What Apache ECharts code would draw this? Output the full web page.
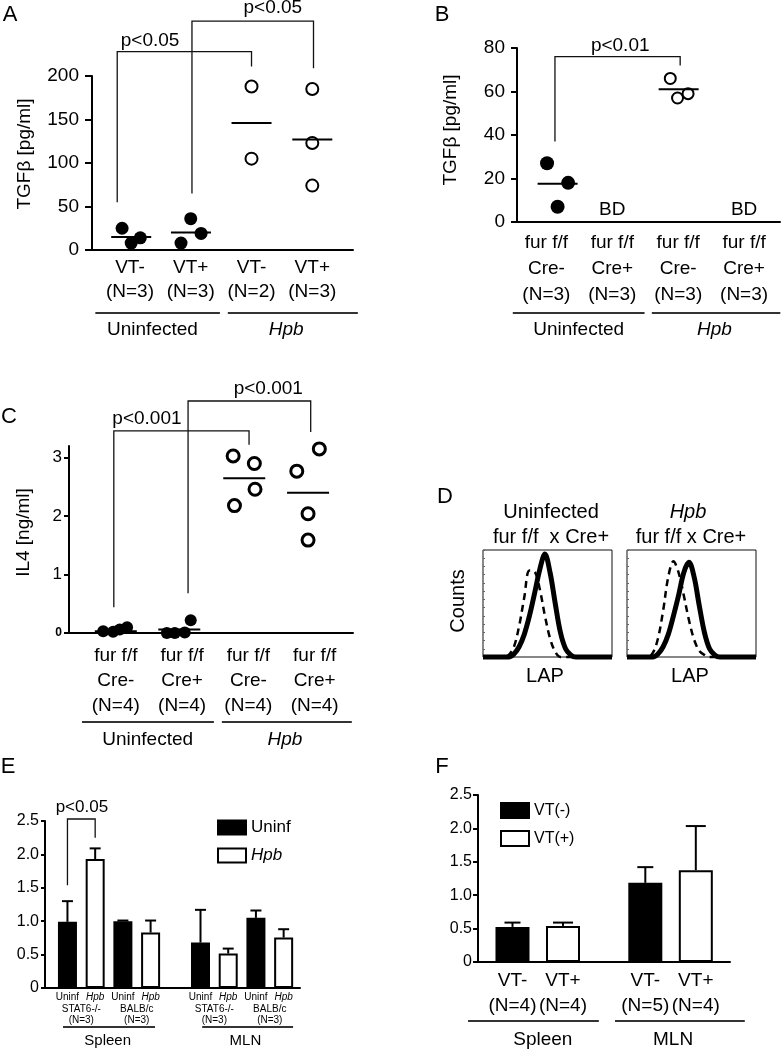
<!DOCTYPE html>
<html><head><meta charset="utf-8">
<script src="https://cdn.jsdelivr.net/npm/echarts@6/dist/echarts.min.js"></script>
<style>html,body{margin:0;padding:0;background:#fff}#c{width:783px;height:1050px}</style>
</head><body><div id="c"></div>
<script>
// ================= DATA =================
// Panel A : TGFβ [pg/ml]
const catsA = ['VT-', 'VT+', 'VT-', 'VT+'];
const nA = ['(N=3)', '(N=3)', '(N=2)', '(N=3)'];
const groupsA = ['Uninfected', 'Hpb'];
const ptsA = [                      // [category + jitter, value]
  [[0.87, 25], [1.02, 8], [1.17, 14]],
  [[1.84, 8], [2.00, 36], [2.17, 19]],
  [[3.00, 188], [3.00, 105]],
  [[4.00, 185], [4.00, 123], [4.00, 74]]
];
const meansA = [15, 20, 146, 127];
const ticksA = [0, 50, 100, 150, 200];

// Panel B : TGFβ [pg/ml]
const catsB = ['fur f/f\nCre-\n(N=3)', 'fur f/f\nCre+\n(N=3)', 'fur f/f\nCre-\n(N=3)', 'fur f/f\nCre+\n(N=3)'];
const ptsB = [
  [[1.01, 27], [1.33, 18], [1.17, 7]],
  [],
  [[2.88, 66], [2.99, 57], [3.15, 59]],
  []
];
const meansB = [17.6, null, 61, null];
const bdB = ['', 'BD', '', 'BD'];
const ticksB = [0, 20, 40, 60, 80];

// Panel C : IL4 [ng/ml]
const catsC = ['fur f/f\nCre-\n(N=4)', 'fur f/f\nCre+\n(N=4)', 'fur f/f\nCre-\n(N=4)', 'fur f/f\nCre+\n(N=4)'];
const ptsC = [
  [[0.81, 0.03], [0.96, 0.02], [1.06, 0.06], [1.17, 0.10]],
  [[1.77, 0.0], [1.89, 0.0], [2.04, 0.01], [2.13, 0.22]],
  [[2.77, 3.03], [3.09, 2.90], [3.10, 2.46], [2.79, 2.18]],
  [[4.07, 3.15], [3.73, 2.77], [3.90, 2.04], [3.90, 1.59]]
];
const meansC = [0.03, 0.06, 2.65, 2.40];
const ticksC = [0, 1, 2, 3];

// Panel D : LAP histograms (counts, % of max)
const lapX = [0, 4, 8, 12, 16, 20, 24, 28, 32, 36, 40, 44, 48, 52, 56, 60, 64, 68, 72, 76, 80, 84, 88, 92, 96, 100];
const uninfSolid = [0, 0, 0, 0, 0, 0, 3, 10, 22, 40, 62, 85, 100, 82, 52, 24, 8, 2, 0, 0, 0, 0, 0, 0, 0, 0];
const uninfDash  = [0, 0, 0, 0, 0, 2, 10, 30, 58, 84, 83, 66, 40, 18, 5, 0, 0, 0, 0, 0, 0, 0, 0, 0, 0, 0];
const hpbSolid   = [0, 0, 0, 0, 0, 0, 3, 10, 22, 40, 60, 82, 92, 78, 50, 24, 8, 2, 0, 0, 0, 0, 0, 0, 0, 0];
const hpbDash    = [0, 0, 0, 0, 0, 4, 18, 45, 78, 93, 82, 60, 36, 17, 6, 2, 0, 0, 0, 0, 0, 0, 0, 0, 0, 0];

// Panel E : bars (organ, strain) x (Uninf, Hpb)
const organsE = ['Spleen', 'MLN'];
const strainsE = ['STAT6-/-', 'BALB/c', 'STAT6-/-', 'BALB/c'];
const nE = ['(N=3)', '(N=3)', '(N=3)', '(N=3)'];
const uninfE = [0.99, 1.00, 0.68, 1.05];
const uninfErrE = [0.31, 0.01, 0.49, 0.11];
const hpbE = [1.93, 0.83, 0.515, 0.755];
const hpbErrE = [0.16, 0.18, 0.075, 0.125];
const ticksE = [0, 0.5, 1.0, 1.5, 2.0, 2.5];

// Panel F : bars organ x (VT-, VT+)
const organsF = ['Spleen', 'MLN'];
const catsF = ['VT-\n(N=4)', 'VT+\n(N=4)', 'VT-\n(N=5)', 'VT+\n(N=4)'];
const vtMinusF = [0.525, 1.185];
const vtMinusErrF = [0.065, 0.235];
const vtPlusF = [0.54, 1.375];
const vtPlusErrF = [0.05, 0.66];

// Significance brackets [x1, yBottom1, yTop, x2, yBottom2, textX, textY, text]
const bracketsA = [[0.79, 55, 228, 3, 211, 1.33, 241, 'p<0.05'], [2.02, 65, 263, 4.02, 209, 3.35, 278, 'p<0.05']];
const bracketsB = [[1.13, 37, 76, 3.03, 72, 2.12, 81, 'p<0.01']];
const bracketsC = [[0.97, 0.44, 3.46, 3.01, 3.22, 1.47, 3.67, 'p<0.001'], [2.09, 0.68, 3.97, 3.94, 3.44, 3.30, 4.18, 'p<0.001']];
const bracketsE = [[0, 1.54, 2.53, 1, 2.25, 0.52, 2.71, 'p<0.05']];

// ================= LAYOUT / STYLE =================
const FF = '"Liberation Sans", Arial, Helvetica, sans-serif';
const BLACK = '#000';
const posE = (o, s, i) => o * 4.8 + s * 2 + i;   // bar slot layout for E
const posF = (o, i) => o * 2.63 + i;             // bar slot layout for F

const chart = echarts.init(document.getElementById('c'), null, {width: 783, height: 1050});

function merge(a, b) {
  const out = Array.isArray(a) ? a.slice() : Object.assign({}, a);
  for (const k in b) {
    if (b[k] && typeof b[k] === 'object' && !Array.isArray(b[k]) && typeof b[k] !== 'function' && a && typeof a[k] === 'object' && !Array.isArray(a[k])) out[k] = merge(a[k], b[k]);
    else out[k] = b[k];
  }
  return out;
}
const baseAxis = {
  type: 'value', splitLine: {show: false},
  axisLine: {show: true, onZero: false, lineStyle: {color: BLACK, width: 2}},
  axisTick: {show: false},
  axisLabel: {color: BLACK, fontFamily: FF, fontSize: 19}
};
const hiddenAxis = {type: 'value', show: true, splitLine: {show: false}, axisLine: {show: false}, axisTick: {show: false}, axisLabel: {show: false}};

function flat(groups, idxs) { const r = []; idxs.forEach(i => groups[i].forEach(p => r.push(p))); return r; }
function meanData(pts, means) {
  const d = [];
  means.forEach((m, i) => { if (m == null || !pts[i].length) return; d.push([pts[i].reduce((s, p) => s + p[0], 0) / pts[i].length, m]); });
  return d;
}
function meanSeries(ai, pts, means, half) {
  return {type: 'custom', xAxisIndex: ai[0], yAxisIndex: ai[1], data: meanData(pts, means), z: 4, silent: true,
    renderItem: (p, api) => { const c = api.coord([api.value(0), api.value(1)]);
      return {type: 'line', shape: {x1: c[0] - half, y1: c[1], x2: c[0] + half, y2: c[1]}, style: {stroke: BLACK, lineWidth: 2}}; }};
}
function errSeries(ai, data, cap) {
  return {type: 'custom', xAxisIndex: ai[0], yAxisIndex: ai[1], data, z: 5, silent: true,
    renderItem: (p, api) => { const x = api.value(0), v = api.value(1), e = api.value(2);
      const a = api.coord([x, v]), b = api.coord([x, v + e]);
      return {type: 'group', children: [
        {type: 'line', shape: {x1: a[0], y1: a[1], x2: b[0], y2: b[1]}, style: {stroke: BLACK, lineWidth: 2}},
        {type: 'line', shape: {x1: b[0] - cap / 2, y1: b[1], x2: b[0] + cap / 2, y2: b[1]}, style: {stroke: BLACK, lineWidth: 2}}]}; }};
}
const filled = (ai, data, size) => ({type: 'scatter', xAxisIndex: ai[0], yAxisIndex: ai[1], data, symbol: 'circle', symbolSize: size, itemStyle: {color: BLACK, opacity: 1}, z: 3, silent: true});
const open = (ai, data, size, bw) => ({type: 'scatter', xAxisIndex: ai[0], yAxisIndex: ai[1], data, symbol: 'circle', symbolSize: size, itemStyle: {color: '#fff', borderColor: BLACK, borderWidth: bw, opacity: 1}, z: 3, silent: true});
const histLine = (ai, ys, dashed) => ({type: 'line', xAxisIndex: ai[0], yAxisIndex: ai[1], data: lapX.map((x, i) => [x, ys[i]]), smooth: 0.35, symbol: 'none', clip: false, silent: true,
  lineStyle: dashed ? {color: BLACK, width: 2.5, type: [7, 5]} : {color: BLACK, width: 5}, z: dashed ? 2 : 3});

const posListE = [], labListE = [], pairPosE = [], pairLabE = [];
for (let o = 0; o < 2; o++) for (let s = 0; s < 2; s++) {
  posListE.push(posE(o, s, 0)); labListE.push('{n|Uninf}');
  posListE.push(posE(o, s, 1)); labListE.push('{i|Hpb}');
  pairPosE.push(posE(o, s, 0.5)); pairLabE.push(strainsE[o * 2 + s] + '\n' + nE[o * 2 + s]);
}
const posListF = [posF(0, 0), posF(0, 1), posF(1, 0), posF(1, 1)];
const near = (arr, v) => { let bi = 0; arr.forEach((a, i) => { if (Math.abs(a - v) < Math.abs(arr[bi] - v)) bi = i; }); return bi; };

const grids = [
  {left: 92, top: 76, width: 261, height: 174},
  {left: 517, top: 48, width: 263, height: 174},
  {left: 69, top: 446, width: 284, height: 187},
  {left: 483, top: 550, width: 129, height: 107, show: true, borderColor: '#111', borderWidth: 1},
  {left: 627, top: 550, width: 129, height: 107, show: true, borderColor: '#111', borderWidth: 1},
  {left: 45, top: 821, width: 255, height: 167},
  {left: 478, top: 795, width: 252, height: 167}
].map(g => Object.assign({outerBoundsMode: 'none', containLabel: false}, g));

const nameStyle = (pad) => ({color: BLACK, fontFamily: FF, fontSize: 19, padding: [0, 0, 0, pad]});
const xAxes = [
  merge(baseAxis, {gridIndex: 0, min: 0.375, max: 4.67, axisLabel: {customValues: [1, 2, 3, 4], formatter: v => catsA[Math.round(v) - 1] + '\n' + nA[Math.round(v) - 1], lineHeight: 24, margin: 6}}),
  merge(baseAxis, {gridIndex: 1, min: 0.554, max: 4.545, axisLabel: {customValues: [1, 2, 3, 4], formatter: v => catsB[Math.round(v) - 1], lineHeight: 26, margin: 8}}),
  merge(baseAxis, {gridIndex: 2, min: 0.294, max: 4.578, axisLabel: {customValues: [1, 2, 3, 4], formatter: v => catsC[Math.round(v) - 1], lineHeight: 25, margin: 10}}),
  merge(hiddenAxis, {gridIndex: 3, min: 0, max: 100}),
  merge(hiddenAxis, {gridIndex: 4, min: 0, max: 100}),
  merge(baseAxis, {gridIndex: 5, min: -0.81, max: 8.39, axisLabel: {customValues: posListE, formatter: v => labListE[near(posListE, v)], fontSize: 10, lineHeight: 11, margin: 4,
    rich: {n: {fontSize: 10, fontFamily: FF, color: BLACK}, i: {fontSize: 10, fontFamily: FF, fontStyle: 'italic', color: BLACK}}}}),
  merge(hiddenAxis, {gridIndex: 5, min: -0.81, max: 8.39, position: 'bottom', axisLabel: {show: true, customValues: pairPosE, formatter: v => pairLabE[near(pairPosE, v)], fontSize: 10, lineHeight: 11, margin: 16, color: BLACK, fontFamily: FF}}),
  merge(baseAxis, {gridIndex: 6, min: -0.683, max: 4.307, axisLabel: {customValues: posListF, formatter: v => catsF[near(posListF, v)], lineHeight: 25, margin: 6}})
];
const yTick = (len) => ({show: true, length: len, lineStyle: {color: BLACK, width: 2}});
const yAxes = [
  merge(baseAxis, {gridIndex: 0, min: 0, max: 200, interval: 50, axisTick: yTick(7), axisLabel: {margin: 13, customValues: ticksA},
    name: 'TGFβ [pg/ml]', nameLocation: 'middle', nameRotate: 90, nameGap: 58, nameTextStyle: nameStyle(18)}),
  merge(baseAxis, {gridIndex: 1, min: 0, max: 80, interval: 20, axisTick: yTick(6), axisLabel: {margin: 12, customValues: ticksB},
    name: 'TGFβ [pg/ml]', nameLocation: 'middle', nameRotate: 90, nameGap: 57, nameTextStyle: nameStyle(10)}),
  merge(baseAxis, {gridIndex: 2, min: 0, max: 3.2, axisTick: merge(yTick(5), {customValues: ticksC}), axisLabel: {margin: 7, fontSize: 17, customValues: ticksC,
    formatter: v => v === 0 ? '{z|0}' : String(v), rich: {z: {fontSize: 12, fontWeight: 'bold', fontFamily: FF, color: BLACK}}},
    name: 'IL4 [ng/ml]', nameLocation: 'middle', nameRotate: 90, nameGap: 36, nameTextStyle: nameStyle(14)}),
  merge(hiddenAxis, {gridIndex: 3, min: 0, max: 104, interval: 8, axisTick: {show: true, inside: true, length: 2, lineStyle: {color: '#666', width: 1}}}),
  merge(hiddenAxis, {gridIndex: 4, min: 0, max: 104, interval: 8, axisTick: {show: true, inside: true, length: 2, lineStyle: {color: '#666', width: 1}}}),
  merge(baseAxis, {gridIndex: 5, min: 0, max: 2.5, interval: 0.5, axisTick: yTick(4), axisLabel: {margin: 6, fontSize: 16, customValues: ticksE, formatter: v => v === 0 ? '0' : v.toFixed(1)}}),
  merge(baseAxis, {gridIndex: 6, min: 0, max: 2.5, interval: 0.5, axisTick: yTick(5), axisLabel: {margin: 6, fontSize: 16, customValues: ticksE, formatter: v => v === 0 ? '0' : v.toFixed(1)}})
];

const series = [
  // A
  filled([0, 0], flat(ptsA, [0, 1]), 13), open([0, 0], flat(ptsA, [2, 3]), 12, 2), meanSeries([0, 0], ptsA, meansA, 20),
  // B
  filled([1, 1], flat(ptsB, [0, 1]), 14), open([1, 1], flat(ptsB, [2, 3]), 11, 2), meanSeries([1, 1], ptsB, meansB, 20),
  // C
  filled([2, 2], flat(ptsC, [0, 1]), 12), open([2, 2], flat(ptsC, [2, 3]), 12, 3), meanSeries([2, 2], ptsC, meansC, 21),
  // D
  histLine([3, 3], uninfDash, true), histLine([3, 3], uninfSolid, false),
  histLine([4, 4], hpbDash, true), histLine([4, 4], hpbSolid, false),
  // E
  {type: 'bar', name: 'Uninf', xAxisIndex: 5, yAxisIndex: 5, barWidth: 19, barGap: '-100%', silent: true,
    data: uninfE.map((v, k) => [posE(k >> 1, k & 1, 0), v]), itemStyle: {color: BLACK, borderColor: BLACK, borderWidth: 2}},
  {type: 'bar', name: 'Hpb', xAxisIndex: 5, yAxisIndex: 5, barWidth: 19, barGap: '-100%', silent: true,
    data: hpbE.map((v, k) => [posE(k >> 1, k & 1, 1), v]), itemStyle: {color: '#fff', borderColor: BLACK, borderWidth: 2}},
  errSeries([5, 5], uninfE.map((v, k) => [posE(k >> 1, k & 1, 0), v, uninfErrE[k]]), 11),
  errSeries([5, 5], hpbE.map((v, k) => [posE(k >> 1, k & 1, 1), v, hpbErrE[k]]), 11),
  // F
  {type: 'bar', name: 'VT(-)', xAxisIndex: 7, yAxisIndex: 6, barWidth: 34, barGap: '-100%', silent: true,
    data: vtMinusF.map((v, o) => [posF(o, 0), v]), itemStyle: {color: BLACK, borderColor: BLACK, borderWidth: 2}},
  {type: 'bar', name: 'VT(+)', xAxisIndex: 7, yAxisIndex: 6, barWidth: 34, barGap: '-100%', silent: true,
    data: vtPlusF.map((v, o) => [posF(o, 1), v]), itemStyle: {color: '#fff', borderColor: BLACK, borderWidth: 2}},
  errSeries([7, 6], vtMinusF.map((v, o) => [posF(o, 0), v, vtMinusErrF[o]]), 16),
  errSeries([7, 6], vtPlusF.map((v, o) => [posF(o, 1), v, vtPlusErrF[o]]), 20)
];

const legendBase = {orient: 'vertical', icon: 'rect', itemWidth: 28, itemHeight: 14, itemGap: 11, selectedMode: false, padding: 0,
  textStyle: {color: BLACK, fontFamily: FF, fontSize: 17, rich: {i: {fontStyle: 'italic', fontFamily: FF, fontSize: 17, color: BLACK}}}};
const legends = [
  merge(legendBase, {data: ['Uninf', 'Hpb'], left: 217, top: 819, formatter: n => n === 'Hpb' ? '{i|Hpb}' : n}),
  merge(legendBase, {data: ['VT(-)', 'VT(+)'], left: 500, top: 802, itemHeight: 15, textStyle: {fontSize: 16}})
];

chart.setOption({animation: false, backgroundColor: '#fff', grid: grids, xAxis: xAxes, yAxis: yAxes, legend: legends, series});

// ================= ANNOTATIONS =================
const G = [];
const P = (xi, yi, x, y) => chart.convertToPixel({xAxisIndex: xi, yAxisIndex: yi}, [x, y]);
function txt(x, y, text, o) { G.push({type: 'text', x, y, silent: true, rotation: (o && o.rot) || 0,
  style: Object.assign({text, fill: BLACK, fontSize: 19, fontFamily: FF, align: 'center', verticalAlign: 'middle'}, o && o.style)}); }
function poly(points, w, col) { G.push({type: 'polyline', silent: true, shape: {points}, style: {stroke: col || '#111', lineWidth: w || 1.3, fill: null}}); }
function brackets(xi, yi, list, fs) {
  list.forEach(b => {
    poly([P(xi, yi, b[0], b[1]), P(xi, yi, b[0], b[2]), P(xi, yi, b[3], b[2]), P(xi, yi, b[3], b[4])]);
    const t = P(xi, yi, b[5], b[6]); txt(t[0], t[1], b[7], {style: {fontSize: fs}});
  });
}
function groups(xi, yi, spans, lineOff, textOff, fs) {
  const y0 = P(xi, yi, 0, 0)[1];
  spans.forEach(s => {
    const a = P(xi, yi, s[0], 0)[0], b = P(xi, yi, s[1], 0)[0], t = P(xi, yi, s[2], 0)[0];
    poly([[a, y0 + lineOff], [b, y0 + lineOff]], 2, '#333');
    txt(t, y0 + textOff, s[3], {style: {fontSize: fs, fontStyle: s[4] ? 'italic' : 'normal'}});
  });
}
brackets(0, 0, bracketsA, 19);
brackets(1, 1, bracketsB, 19);
brackets(2, 2, bracketsC, 19);
brackets(5, 5, bracketsE, 17);

groups(0, 0, [[0.43, 2.48, 1.37, groupsA[0], false], [2.61, 4.75, 3.57, groupsA[1], true]], 63, 80, 19);
groups(1, 1, [[0.49, 2.49, 1.49, 'Uninfected', false], [2.60, 4.55, 3.55, 'Hpb', true]], 91, 108, 19);
groups(2, 2, [[0.49, 2.48, 1.48, 'Uninfected', false], [2.60, 4.56, 3.55, 'Hpb', true]], 89, 107, 19);
groups(5, 5, [[-0.16, 3.16, 1.45, organsE[0], false], [4.86, 8.14, 6.42, organsE[1], false]], 39, 53, 15);
groups(7, 6, [[-0.88, 1.71, 0.6, organsF[0], false], [2.03, 4.6, 3.18, organsF[1], false]], 59, 78, 19);

// BD labels (below detection) in B
bdB.forEach((t, i) => { if (!t) return; const p = P(1, 1, i + 1, 5.5); txt(p[0], p[1], t); });

// Panel letters
[['A', 10, 15], ['B', 442, 15], ['C', 9, 417], ['D', 445, 497], ['E', 8, 767], ['F', 442, 767]].forEach(l => txt(l[1], l[2], l[0], {style: {fontSize: 22}}));

// Panel D texts
txt(551, 512, 'Uninfected', {style: {fontSize: 20}});
txt(551, 537, 'fur f/f  x Cre+', {style: {fontSize: 20}});
txt(688, 512, 'Hpb', {style: {fontSize: 20, fontStyle: 'italic'}});
txt(691, 537, 'fur f/f x Cre+', {style: {fontSize: 20}});
txt(458, 601, 'Counts', {rot: Math.PI / 2, style: {fontSize: 20}});
txt(545, 676, 'LAP', {style: {fontSize: 20}});
txt(690, 676, 'LAP', {style: {fontSize: 20}});

chart.setOption({graphic: {elements: G}});
</script>
</body></html>
